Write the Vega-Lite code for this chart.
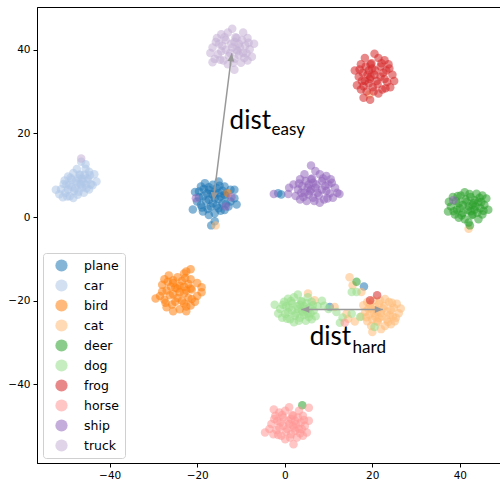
{
"$schema": "https://vega.github.io/schema/vega-lite/v6.json",
"width": 471, "height": 456,
"autosize": {"type": "none"},
"padding": {"left": 37, "top": 7, "right": 0, "bottom": 17},
"background": "white",
"config": {
  "view": {"stroke": "black", "strokeWidth": 1},
  "axis": {"grid": false, "domainColor": "black", "tickColor": "black", "tickSize": 4, "labelFont": "DejaVu Sans", "labelFontSize": 10.5, "labelColor": "black", "labelPadding": 3, "domain": true}
},
"datasets": {
"pts": [
{"c":"plane","x":-16,"y":4.5},{"c":"plane","x":-15.1,"y":5.7},{"c":"plane","x":-14.2,"y":3.3},{"c":"plane","x":-17.35,"y":6.5},{"c":"plane","x":-16.9,"y":2.5},{"c":"plane","x":-18.7,"y":4.9},{"c":"plane","x":-12.4,"y":3.7},{"c":"plane","x":-13.75,"y":7.3},{"c":"plane","x":-13.75,"y":1.7},{"c":"plane","x":-16.45,"y":7.7},{"c":"plane","x":-16,"y":0.9},{"c":"plane","x":-19.6,"y":6.1},{"c":"plane","x":-19.15,"y":2.9},{"c":"plane","x":-13.75,"y":5.3},{"c":"plane","x":-17.35,"y":4.1},{"c":"plane","x":-15.55,"y":6.9},{"c":"plane","x":-15.1,"y":2.1},{"c":"plane","x":-11.5,"y":4.5},{"c":"plane","x":-18.25,"y":8.1},{"c":"plane","x":-18.7,"y":1.3},{"c":"plane","x":-17.8,"y":5.7},{"c":"plane","x":-16.45,"y":3.3},{"c":"plane","x":-12.4,"y":6.5},{"c":"plane","x":-12.85,"y":2.5},{"c":"plane","x":-15.1,"y":8.5},{"c":"plane","x":-17.35,"y":0.5},{"c":"plane","x":-14.65,"y":4.9},{"c":"plane","x":-20.05,"y":3.7},{"c":"plane","x":-19.15,"y":7.3},{"c":"plane","x":-16.45,"y":5.3},{"c":"plane","x":-21,"y":1.8},{"c":"plane","x":-20.5,"y":6},{"c":"plane","x":-16,"y":-1},{"c":"plane","x":-16.8,"y":-2},{"c":"plane","x":-11,"y":3},{"c":"plane","x":-11.5,"y":6.5},
{"c":"plane","x":-13.5,"y":5.1},{"c":"plane","x":-15.55,"y":2.7},{"c":"plane","x":-18.5,"y":6.7},{"c":"plane","x":-18,"y":3.9},{"c":"plane","x":-16,"y":5.9},{"c":"plane","x":-17.6,"y":1.9},{"c":"plane","x":-14.9,"y":7.5},{"c":"plane","x":-13.5,"y":3.1},{"c":"plane","x":-19.6,"y":4.7},{"c":"plane","x":-14.2,"y":6.3},{"c":"plane","x":-14.65,"y":1.5},{"c":"plane","x":-16.9,"y":5.5},{"c":"plane","x":-15.1,"y":4.3},{"c":"plane","x":-17.35,"y":7.1},{"c":"plane","x":-18.9,"y":2.3},
{"c":"plane","x":-1.5,"y":5.7},{"c":"plane","x":-0.8,"y":5.4},{"c":"plane","x":10.3,"y":-21.5},{"c":"plane","x":18.1,"y":-16.6},
{"c":"car","x":-47.5,"y":8},{"c":"car","x":-46.3,"y":9.15},{"c":"car","x":-48.7,"y":8.95},{"c":"car","x":-45.5,"y":7.7},{"c":"car","x":-49.5,"y":6.55},{"c":"car","x":-47.1,"y":6.05},{"c":"car","x":-48.3,"y":10.5},{"c":"car","x":-44.7,"y":10.8},{"c":"car","x":-50.3,"y":8.7},{"c":"car","x":-44.3,"y":7.85},{"c":"car","x":-51.1,"y":6.65},{"c":"car","x":-45.9,"y":5.8},{"c":"car","x":-49.1,"y":4.95},{"c":"car","x":-46.7,"y":10.05},{"c":"car","x":-47.9,"y":6.8},{"c":"car","x":-45.1,"y":9.25},{"c":"car","x":-49.9,"y":7.8},{"c":"car","x":-47.5,"y":11.5},{"c":"car","x":-43.9,"y":7.6},{"c":"car","x":-50.7,"y":4.7},{"c":"car","x":-46.3,"y":7.05},{"c":"car","x":-48.7,"y":7.2},{"c":"car","x":-45.5,"y":11.55},{"c":"car","x":-49.5,"y":9.7},{"c":"car","x":-43.5,"y":10.2},{"c":"car","x":-51.5,"y":5.45},{"c":"car","x":-47.1,"y":9.2},{"c":"car","x":-48.3,"y":4.55},{"c":"car","x":-44.7,"y":6.6},{"c":"car","x":-46.7,"y":7.95},{"c":"car","x":-46.5,"y":13.2},{"c":"car","x":-45.5,"y":12.6},{"c":"car","x":-43,"y":8.5},{"c":"car","x":-52.3,"y":6.5},
{"c":"car","x":-46.9,"y":10.15},{"c":"car","x":-49.3,"y":7.65},{"c":"car","x":-45.3,"y":6.9},{"c":"car","x":-48.1,"y":6.2},{"c":"car","x":-46.1,"y":8.5},{"c":"car","x":-50.1,"y":5.8},{"c":"car","x":-44.5,"y":10},{"c":"car","x":-48.9,"y":9.4},{"c":"car","x":-47.3,"y":5.3},{"c":"car","x":-45.7,"y":10.1},{"c":"car","x":-50.5,"y":7.9},{"c":"car","x":-46.5,"y":7.7},{"c":"car","x":-47.7,"y":8.6},{"c":"car","x":-44.9,"y":8.9},{"c":"car","x":-49.7,"y":4.9},
{"c":"bird","x":-24,"y":-18},{"c":"bird","x":-23,"y":-16.65},{"c":"bird","x":-22,"y":-19.35},{"c":"bird","x":-25.5,"y":-15.75},{"c":"bird","x":-25,"y":-20.25},{"c":"bird","x":-27,"y":-17.55},{"c":"bird","x":-20,"y":-18.9},{"c":"bird","x":-21.5,"y":-14.85},{"c":"bird","x":-21.5,"y":-21.15},{"c":"bird","x":-24.5,"y":-14.4},{"c":"bird","x":-24,"y":-22.05},{"c":"bird","x":-28,"y":-16.2},{"c":"bird","x":-27.5,"y":-19.8},{"c":"bird","x":-21.5,"y":-17.1},{"c":"bird","x":-25.5,"y":-18.45},{"c":"bird","x":-23.5,"y":-15.3},{"c":"bird","x":-23,"y":-20.7},{"c":"bird","x":-19,"y":-18},{"c":"bird","x":-26.5,"y":-13.95},{"c":"bird","x":-27,"y":-21.6},{"c":"bird","x":-26,"y":-16.65},{"c":"bird","x":-24.5,"y":-19.35},{"c":"bird","x":-20,"y":-15.75},{"c":"bird","x":-20.5,"y":-20.25},{"c":"bird","x":-23,"y":-13.5},{"c":"bird","x":-25.5,"y":-22.5},{"c":"bird","x":-22.5,"y":-17.55},{"c":"bird","x":-28.5,"y":-18.9},{"c":"bird","x":-27.5,"y":-14.85},{"c":"bird","x":-24.5,"y":-17.1},{"c":"bird","x":-29.5,"y":-19.5},{"c":"bird","x":-21.5,"y":-12.5},{"c":"bird","x":-22.5,"y":-13},{"c":"bird","x":-19,"y":-16.8},{"c":"bird","x":-22.5,"y":-22.5},
{"c":"bird","x":-21.25,"y":-17.3},{"c":"bird","x":-23.5,"y":-20},{"c":"bird","x":-26.75,"y":-15.5},{"c":"bird","x":-26.25,"y":-18.7},{"c":"bird","x":-24,"y":-16.4},{"c":"bird","x":-25.75,"y":-20.9},{"c":"bird","x":-22.75,"y":-14.6},{"c":"bird","x":-21.25,"y":-19.6},{"c":"bird","x":-28,"y":-17.8},{"c":"bird","x":-22,"y":-16},{"c":"bird","x":-22.5,"y":-21.4},{"c":"bird","x":-25,"y":-16.9},{"c":"bird","x":-23,"y":-18.2},{"c":"bird","x":-25.5,"y":-15.1},{"c":"bird","x":-27.25,"y":-20.5},
{"c":"bird","x":-13,"y":5.7},
{"c":"cat","x":22,"y":-23},{"c":"cat","x":20.65,"y":-23.76},{"c":"cat","x":23.35,"y":-24.52},{"c":"cat","x":19.75,"y":-21.86},{"c":"cat","x":24.25,"y":-22.24},{"c":"cat","x":21.55,"y":-20.72},{"c":"cat","x":22.9,"y":-26.04},{"c":"cat","x":18.85,"y":-24.9},{"c":"cat","x":25.15,"y":-24.9},{"c":"cat","x":18.4,"y":-22.62},{"c":"cat","x":26.05,"y":-23},{"c":"cat","x":20.2,"y":-19.96},{"c":"cat","x":23.8,"y":-20.34},{"c":"cat","x":21.1,"y":-24.9},{"c":"cat","x":22.45,"y":-21.86},{"c":"cat","x":19.3,"y":-23.38},{"c":"cat","x":24.7,"y":-23.76},{"c":"cat","x":22,"y":-26.8},{"c":"cat","x":17.95,"y":-21.1},{"c":"cat","x":25.6,"y":-20.72},{"c":"cat","x":20.65,"y":-21.48},{"c":"cat","x":23.35,"y":-22.62},{"c":"cat","x":19.75,"y":-26.04},{"c":"cat","x":24.25,"y":-25.66},{"c":"cat","x":17.5,"y":-23.76},{"c":"cat","x":26.5,"y":-21.86},{"c":"cat","x":21.55,"y":-24.14},{"c":"cat","x":22.9,"y":-19.58},{"c":"cat","x":18.85,"y":-20.34},{"c":"cat","x":21.1,"y":-22.62},{"c":"cat","x":20,"y":-27.5},{"c":"cat","x":16,"y":-25},
{"c":"cat","x":21.3,"y":-25.1},{"c":"cat","x":24,"y":-23.4},{"c":"cat","x":19.5,"y":-20.9},{"c":"cat","x":22.7,"y":-21.3},{"c":"cat","x":20.4,"y":-23},{"c":"cat","x":24.9,"y":-21.7},{"c":"cat","x":18.6,"y":-23.95},{"c":"cat","x":23.6,"y":-25.1},{"c":"cat","x":21.8,"y":-20},{"c":"cat","x":20,"y":-24.5},{"c":"cat","x":25.4,"y":-24.1},{"c":"cat","x":20.9,"y":-22.2},{"c":"cat","x":22.2,"y":-23.8},{"c":"cat","x":19.1,"y":-21.9},{"c":"cat","x":24.5,"y":-20.5},
{"c":"cat","x":14.8,"y":-14.4},{"c":"cat","x":15.5,"y":-16.3},{"c":"cat","x":17.5,"y":-17.9},{"c":"cat","x":11.4,"y":-21.5},{"c":"cat","x":14.1,"y":-23.1},{"c":"cat","x":14.5,"y":-24.3},{"c":"cat","x":6.8,"y":-19.9},{"c":"cat","x":5.3,"y":-18.3},{"c":"cat","x":-15.8,"y":-2},{"c":"cat","x":42,"y":-2.8},{"c":"cat","x":19.3,"y":29.3},
{"c":"deer","x":42,"y":2.5},{"c":"deer","x":43.35,"y":1.74},{"c":"deer","x":40.65,"y":0.98},{"c":"deer","x":44.25,"y":3.64},{"c":"deer","x":39.75,"y":3.26},{"c":"deer","x":42.45,"y":4.78},{"c":"deer","x":41.1,"y":-0.54},{"c":"deer","x":45.15,"y":0.6},{"c":"deer","x":38.85,"y":0.6},{"c":"deer","x":45.6,"y":2.88},{"c":"deer","x":37.95,"y":2.5},{"c":"deer","x":43.8,"y":5.54},{"c":"deer","x":40.2,"y":5.16},{"c":"deer","x":42.9,"y":0.6},{"c":"deer","x":41.55,"y":3.64},{"c":"deer","x":44.7,"y":2.12},{"c":"deer","x":39.3,"y":1.74},{"c":"deer","x":42,"y":-1.3},{"c":"deer","x":46.05,"y":4.4},{"c":"deer","x":38.4,"y":4.78},{"c":"deer","x":43.35,"y":4.02},{"c":"deer","x":40.65,"y":2.88},{"c":"deer","x":44.25,"y":-0.54},{"c":"deer","x":39.75,"y":-0.16},{"c":"deer","x":46.5,"y":1.74},{"c":"deer","x":37.5,"y":3.64},{"c":"deer","x":42.45,"y":1.36},{"c":"deer","x":41.1,"y":5.92},{"c":"deer","x":45.15,"y":5.16},{"c":"deer","x":42.9,"y":2.88},{"c":"deer","x":42.3,"y":-2},{"c":"deer","x":37.3,"y":1.3},
{"c":"deer","x":42.7,"y":0.4},{"c":"deer","x":40,"y":2.1},{"c":"deer","x":44.5,"y":4.6},{"c":"deer","x":41.3,"y":4.2},{"c":"deer","x":43.6,"y":2.5},{"c":"deer","x":39.1,"y":3.8},{"c":"deer","x":45.4,"y":1.5},{"c":"deer","x":40.4,"y":0.4},{"c":"deer","x":42.2,"y":5.5},{"c":"deer","x":44,"y":1},{"c":"deer","x":38.6,"y":1.4},{"c":"deer","x":43.1,"y":3.3},{"c":"deer","x":41.8,"y":1.7},{"c":"deer","x":44.9,"y":3.6},{"c":"deer","x":39.5,"y":5},
{"c":"deer","x":16.4,"y":-15.5},{"c":"deer","x":4,"y":-45},
{"c":"dog","x":3,"y":-22},{"c":"dog","x":4.35,"y":-21.3},{"c":"dog","x":1.65,"y":-20.6},{"c":"dog","x":5.25,"y":-23.05},{"c":"dog","x":0.75,"y":-22.7},{"c":"dog","x":3.45,"y":-24.1},{"c":"dog","x":2.1,"y":-19.2},{"c":"dog","x":6.15,"y":-20.25},{"c":"dog","x":-0.15,"y":-20.25},{"c":"dog","x":6.6,"y":-22.35},{"c":"dog","x":-1.05,"y":-22},{"c":"dog","x":4.8,"y":-24.8},{"c":"dog","x":1.2,"y":-24.45},{"c":"dog","x":3.9,"y":-20.25},{"c":"dog","x":2.55,"y":-23.05},{"c":"dog","x":5.7,"y":-21.65},{"c":"dog","x":0.3,"y":-21.3},{"c":"dog","x":3,"y":-18.5},{"c":"dog","x":7.05,"y":-23.75},{"c":"dog","x":-0.6,"y":-24.1},{"c":"dog","x":4.35,"y":-23.4},{"c":"dog","x":1.65,"y":-22.35},{"c":"dog","x":5.25,"y":-19.2},{"c":"dog","x":0.75,"y":-19.55},{"c":"dog","x":7.5,"y":-21.3},{"c":"dog","x":-1.5,"y":-23.05},{"c":"dog","x":3.45,"y":-20.95},{"c":"dog","x":2.1,"y":-25.15},{"c":"dog","x":6.15,"y":-24.45},{"c":"dog","x":3.9,"y":-22.35},
{"c":"dog","x":3.7,"y":-20.1},{"c":"dog","x":1,"y":-21.65},{"c":"dog","x":5.5,"y":-23.9},{"c":"dog","x":2.3,"y":-23.6},{"c":"dog","x":4.6,"y":-22},{"c":"dog","x":0.1,"y":-23.2},{"c":"dog","x":6.4,"y":-21.1},{"c":"dog","x":1.4,"y":-20.1},{"c":"dog","x":3.2,"y":-24.8},{"c":"dog","x":5,"y":-20.6},{"c":"dog","x":-0.4,"y":-20.95},{"c":"dog","x":4.1,"y":-22.7},{"c":"dog","x":2.8,"y":-21.3},{"c":"dog","x":5.9,"y":-23.05},{"c":"dog","x":0.5,"y":-24.3},
{"c":"dog","x":-2.3,"y":-21},{"c":"dog","x":8.5,"y":-20},{"c":"dog","x":9,"y":-21.2},{"c":"dog","x":10,"y":-22},{"c":"dog","x":11.8,"y":-22.7},{"c":"dog","x":15.3,"y":-23.1},{"c":"dog","x":17.2,"y":-23.9},{"c":"dog","x":12.6,"y":-25.3},{"c":"dog","x":15.3,"y":-17.9},{"c":"dog","x":16.4,"y":-17.9},{"c":"dog","x":20.5,"y":-26.3},{"c":"dog","x":13.2,"y":-24},
{"c":"frog","x":20.5,"y":34},{"c":"frog","x":19.2,"y":35},{"c":"frog","x":21.9,"y":36},{"c":"frog","x":18.3,"y":32.5},{"c":"frog","x":22.8,"y":33},{"c":"frog","x":20.1,"y":31},{"c":"frog","x":21.4,"y":38},{"c":"frog","x":17.4,"y":36.5},{"c":"frog","x":23.7,"y":36.5},{"c":"frog","x":16.9,"y":33.5},{"c":"frog","x":24.6,"y":34},{"c":"frog","x":18.7,"y":30},{"c":"frog","x":22.3,"y":30.5},{"c":"frog","x":19.6,"y":36.5},{"c":"frog","x":21,"y":32.5},{"c":"frog","x":17.8,"y":34.5},{"c":"frog","x":23.2,"y":35},{"c":"frog","x":20.5,"y":39},{"c":"frog","x":16.5,"y":31.5},{"c":"frog","x":24.1,"y":31},{"c":"frog","x":19.2,"y":32},{"c":"frog","x":21.9,"y":33.5},{"c":"frog","x":18.3,"y":38},{"c":"frog","x":22.8,"y":37.5},{"c":"frog","x":16,"y":35},{"c":"frog","x":25,"y":32.5},{"c":"frog","x":20,"y":35.5},{"c":"frog","x":21.4,"y":29.5},{"c":"frog","x":17.4,"y":30.5},{"c":"frog","x":19.6,"y":33.5},{"c":"frog","x":18,"y":28.5},{"c":"frog","x":19.5,"y":28},
{"c":"frog","x":19.8,"y":36.75},{"c":"frog","x":22.5,"y":34.5},{"c":"frog","x":18,"y":31.25},{"c":"frog","x":21.2,"y":31.75},{"c":"frog","x":18.9,"y":34},{"c":"frog","x":23.4,"y":32.25},{"c":"frog","x":17.1,"y":35.25},{"c":"frog","x":22.1,"y":36.75},{"c":"frog","x":20.3,"y":30},{"c":"frog","x":18.5,"y":36},{"c":"frog","x":23.9,"y":35.5},{"c":"frog","x":19.4,"y":33},{"c":"frog","x":20.7,"y":35},{"c":"frog","x":17.6,"y":32.5},{"c":"frog","x":23,"y":30.75},
{"c":"frog","x":21.1,"y":-18.7},{"c":"frog","x":19.5,"y":-19.9},
{"c":"horse","x":1,"y":-49.5},{"c":"horse","x":2.35,"y":-48.7},{"c":"horse","x":-0.35,"y":-47.9},{"c":"horse","x":3.25,"y":-50.7},{"c":"horse","x":-1.25,"y":-50.3},{"c":"horse","x":1.45,"y":-51.9},{"c":"horse","x":0.1,"y":-46.3},{"c":"horse","x":4.15,"y":-47.5},{"c":"horse","x":-2.15,"y":-47.5},{"c":"horse","x":4.6,"y":-49.9},{"c":"horse","x":-3.05,"y":-49.5},{"c":"horse","x":2.8,"y":-52.7},{"c":"horse","x":-0.8,"y":-52.3},{"c":"horse","x":1.9,"y":-47.5},{"c":"horse","x":0.55,"y":-50.7},{"c":"horse","x":3.7,"y":-49.1},{"c":"horse","x":-1.7,"y":-48.7},{"c":"horse","x":1,"y":-45.5},{"c":"horse","x":5.05,"y":-51.5},{"c":"horse","x":-2.6,"y":-51.9},{"c":"horse","x":2.35,"y":-51.1},{"c":"horse","x":-0.35,"y":-49.9},{"c":"horse","x":3.25,"y":-46.3},{"c":"horse","x":-1.25,"y":-46.7},{"c":"horse","x":5.5,"y":-48.7},{"c":"horse","x":-3.5,"y":-50.7},{"c":"horse","x":1.45,"y":-48.3},{"c":"horse","x":0.1,"y":-53.1},{"c":"horse","x":4.15,"y":-52.3},{"c":"horse","x":1.9,"y":-49.9},{"c":"horse","x":-4.5,"y":-51.5},{"c":"horse","x":2,"y":-54.3},{"c":"horse","x":5.5,"y":-45.6},{"c":"horse","x":-2.5,"y":-46},
{"c":"horse","x":1.7,"y":-47.3},{"c":"horse","x":-1,"y":-49.1},{"c":"horse","x":3.5,"y":-51.7},{"c":"horse","x":0.3,"y":-51.3},{"c":"horse","x":2.6,"y":-49.5},{"c":"horse","x":-1.9,"y":-50.9},{"c":"horse","x":4.4,"y":-48.5},{"c":"horse","x":-0.6,"y":-47.3},{"c":"horse","x":1.2,"y":-52.7},{"c":"horse","x":3,"y":-47.9},{"c":"horse","x":-2.4,"y":-48.3},{"c":"horse","x":2.1,"y":-50.3},{"c":"horse","x":0.8,"y":-48.7},{"c":"horse","x":3.9,"y":-50.7},{"c":"horse","x":-1.5,"y":-52.1},
{"c":"horse","x":13.7,"y":-25.3},
{"c":"ship","x":7,"y":7},{"c":"ship","x":5.5,"y":7.8},{"c":"ship","x":8.5,"y":8.6},{"c":"ship","x":4.5,"y":5.8},{"c":"ship","x":9.5,"y":6.2},{"c":"ship","x":6.5,"y":4.6},{"c":"ship","x":8,"y":10.2},{"c":"ship","x":3.5,"y":9},{"c":"ship","x":10.5,"y":9},{"c":"ship","x":3,"y":6.6},{"c":"ship","x":11.5,"y":7},{"c":"ship","x":5,"y":3.8},{"c":"ship","x":9,"y":4.2},{"c":"ship","x":6,"y":9},{"c":"ship","x":7.5,"y":5.8},{"c":"ship","x":4,"y":7.4},{"c":"ship","x":10,"y":7.8},{"c":"ship","x":7,"y":11},{"c":"ship","x":2.5,"y":5},{"c":"ship","x":11,"y":4.6},{"c":"ship","x":5.5,"y":5.4},{"c":"ship","x":8.5,"y":6.6},{"c":"ship","x":4.5,"y":10.2},{"c":"ship","x":9.5,"y":9.8},{"c":"ship","x":2,"y":7.8},{"c":"ship","x":12,"y":5.8},{"c":"ship","x":6.5,"y":8.2},{"c":"ship","x":8,"y":3.4},{"c":"ship","x":3.5,"y":4.2},{"c":"ship","x":6,"y":6.6},{"c":"ship","x":6,"y":12.3},{"c":"ship","x":0.8,"y":5.5},{"c":"ship","x":-2.5,"y":5.5},{"c":"ship","x":12.5,"y":5.5},{"c":"ship","x":1,"y":7},
{"c":"ship","x":6.25,"y":9.2},{"c":"ship","x":9.25,"y":7.4},{"c":"ship","x":4.25,"y":4.8},{"c":"ship","x":7.75,"y":5.2},{"c":"ship","x":5.25,"y":7},{"c":"ship","x":10.25,"y":5.6},{"c":"ship","x":3.25,"y":8},{"c":"ship","x":8.75,"y":9.2},{"c":"ship","x":6.75,"y":3.8},{"c":"ship","x":4.75,"y":8.6},{"c":"ship","x":10.75,"y":8.2},{"c":"ship","x":5.75,"y":6.2},{"c":"ship","x":7.25,"y":7.8},{"c":"ship","x":3.75,"y":5.8},{"c":"ship","x":9.75,"y":4.4},
{"c":"ship","x":-20.3,"y":4.5},{"c":"ship","x":-13.5,"y":2.5},{"c":"ship","x":-12.2,"y":4.7},{"c":"ship","x":38.5,"y":4},
{"c":"truck","x":-12,"y":40.5},{"c":"truck","x":-10.5,"y":41.4},{"c":"truck","x":-13.5,"y":42.3},{"c":"truck","x":-9.5,"y":39.2},{"c":"truck","x":-14.5,"y":39.6},{"c":"truck","x":-11.5,"y":37.8},{"c":"truck","x":-13,"y":44.1},{"c":"truck","x":-8.5,"y":42.8},{"c":"truck","x":-15.5,"y":42.8},{"c":"truck","x":-8,"y":40.1},{"c":"truck","x":-16.5,"y":40.5},{"c":"truck","x":-10,"y":36.9},{"c":"truck","x":-14,"y":37.4},{"c":"truck","x":-11,"y":42.8},{"c":"truck","x":-12.5,"y":39.2},{"c":"truck","x":-9,"y":41},{"c":"truck","x":-15,"y":41.4},{"c":"truck","x":-12,"y":45},{"c":"truck","x":-7.5,"y":38.3},{"c":"truck","x":-16,"y":37.8},{"c":"truck","x":-10.5,"y":38.7},{"c":"truck","x":-13.5,"y":40},{"c":"truck","x":-9.5,"y":44.1},{"c":"truck","x":-14.5,"y":43.7},{"c":"truck","x":-7,"y":41.4},{"c":"truck","x":-17,"y":39.2},{"c":"truck","x":-11.5,"y":41.9},{"c":"truck","x":-13,"y":36.5},{"c":"truck","x":-8.5,"y":37.4},{"c":"truck","x":-11,"y":40},{"c":"truck","x":-11.5,"y":35.2},{"c":"truck","x":-16.5,"y":37},
{"c":"truck","x":-11.25,"y":42.98},{"c":"truck","x":-14.25,"y":40.95},{"c":"truck","x":-9.25,"y":38.03},{"c":"truck","x":-12.75,"y":38.48},{"c":"truck","x":-10.25,"y":40.5},{"c":"truck","x":-15.25,"y":38.93},{"c":"truck","x":-8.25,"y":41.63},{"c":"truck","x":-13.75,"y":42.98},{"c":"truck","x":-11.75,"y":36.9},{"c":"truck","x":-9.75,"y":42.3},{"c":"truck","x":-15.75,"y":41.85},{"c":"truck","x":-10.75,"y":39.6},{"c":"truck","x":-12.25,"y":41.4},{"c":"truck","x":-8.75,"y":39.15},{"c":"truck","x":-14.75,"y":37.58},
{"c":"truck","x":-46.5,"y":14}
],
"lines": [{"x":-16.3,"y":4.0,"x2":-12.1,"y2":39.1},{"x":3.8,"y":-22.1,"x2":22.4,"y2":-22.1}],
"main": [{"t":"dist","x":-12.6,"y":21.0},{"t":"dist","x":5.7,"y":-30.7}],
"sub": [{"t":"easy","x":-3.0,"y":19.5},{"t":"hard","x":15.5,"y":-32.4}]
},
"encoding": {
  "x": {"field": "x", "type": "quantitative", "scale": {"domain": [-56.6, 51], "nice": false, "zero": false}, "axis": {"title": null, "values": [-40, -20, 0, 20, 40]}},
  "y": {"field": "y", "type": "quantitative", "scale": {"domain": [-58.8, 50.2], "nice": false, "zero": false}, "axis": {"title": null, "values": [-40, -20, 0, 20, 40]}}
},
"layer": [
  {"data": {"name": "pts"}, "mark": {"type": "point", "filled": true, "opacity": 0.55, "size": 72, "shape": "circle"},
   "encoding": {"color": {"field": "c", "type": "nominal", "sort": null,
     "scale": {"domain": ["plane","car","bird","cat","deer","dog","frog","horse","ship","truck"], "range": ["#1f77b4","#aec7e8","#ff7f0e","#ffbb78","#2ca02c","#98df8a","#d62728","#ff9896","#9467bd","#c5b0d5"]},
     "legend": {"title": null, "orient": "none", "legendX": 6, "legendY": 246, "padding": 6, "symbolOffset": 6, "labelOffset": 16, "symbolSize": 150, "symbolType": "circle", "symbolOpacity": 0.55, "symbolStrokeWidth": 0, "labelFont": "DejaVu Sans", "labelFontSize": 12.5, "labelColor": "black", "rowPadding": 7, "strokeColor": "#d0d0d0", "fillColor": "white", "cornerRadius": 3}}}},
  {"data": {"name": "lines"}, "mark": {"type": "rule", "color": "#999999", "strokeWidth": 1.5},
   "encoding": {"x2": {"field": "x2"}, "y2": {"field": "y2"}}},
  {"data": {"values": [{"x": -12.1, "y": 39.1}]}, "mark": {"type": "point", "filled": true, "opacity": 1, "color": "#999999", "size": 100, "angle": 7, "shape": "M0,0L-0.7,1.6L0.7,1.6Z"}, "encoding": {}},
  {"data": {"values": [{"x": -16.3, "y": 4.0}]}, "mark": {"type": "point", "filled": true, "opacity": 1, "color": "#999999", "size": 100, "angle": 187, "shape": "M0,0L-0.7,1.6L0.7,1.6Z"}, "encoding": {}},
  {"data": {"values": [{"x": 22.4, "y": -22.1}]}, "mark": {"type": "point", "filled": true, "opacity": 1, "color": "#999999", "size": 100, "angle": 90, "shape": "M0,0L-0.7,1.6L0.7,1.6Z"}, "encoding": {}},
  {"data": {"values": [{"x": 3.8, "y": -22.1}]}, "mark": {"type": "point", "filled": true, "opacity": 1, "color": "#999999", "size": 100, "angle": 270, "shape": "M0,0L-0.7,1.6L0.7,1.6Z"}, "encoding": {}},
  {"data": {"name": "main"}, "mark": {"type": "text", "align": "left", "baseline": "alphabetic", "font": "Lato", "fontSize": 26, "color": "black"},
   "encoding": {"text": {"field": "t"}}},
  {"data": {"name": "sub"}, "mark": {"type": "text", "align": "left", "baseline": "alphabetic", "font": "Lato", "fontSize": 17, "color": "black"},
   "encoding": {"text": {"field": "t"}}}
]
}
